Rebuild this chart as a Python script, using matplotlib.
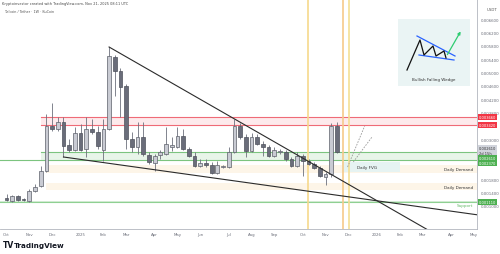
import matplotlib
matplotlib.use("Agg")
import matplotlib.pyplot as plt
import matplotlib.dates as mdates
from matplotlib.transforms import blended_transform_factory
import numpy as np

# Telcoin / Tether weekly candles, first candle = week of 2024-10-07
first_week = np.datetime64("2024-10-07")
opens = [0.00123, 0.00114, 0.00129, 0.00120, 0.00114, 0.00144, 0.00159, 0.00204, 0.00339, 0.00330,
         0.00351, 0.00282, 0.00267, 0.00318, 0.00270, 0.00330, 0.00321, 0.00267, 0.00330, 0.00546,
         0.00504, 0.00459, 0.00300, 0.00276, 0.00306, 0.00252, 0.00228, 0.00252, 0.00255, 0.00276,
         0.00276, 0.00309, 0.00270, 0.00249, 0.00219, 0.00228, 0.00222, 0.00198, 0.00216, 0.00216,
         0.00261, 0.00339, 0.00306, 0.00264, 0.00306, 0.00285, 0.00276, 0.00249, 0.00261, 0.00261,
         0.00240, 0.00219, 0.00249, 0.00234, 0.00225, 0.00213, 0.00186, 0.00195, 0.00339]
highs = [0.00135, 0.00132, 0.00132, 0.00123, 0.00150, 0.00165, 0.00219, 0.00375, 0.00408, 0.00366,
         0.00366, 0.00300, 0.00336, 0.00345, 0.00366, 0.00360, 0.00339, 0.00360, 0.00576, 0.00552,
         0.00513, 0.00465, 0.00321, 0.00351, 0.00351, 0.00261, 0.00255, 0.00267, 0.00336, 0.00306,
         0.00336, 0.00330, 0.00276, 0.00261, 0.00240, 0.00240, 0.00231, 0.00234, 0.00222, 0.00276,
         0.00360, 0.00348, 0.00315, 0.00318, 0.00315, 0.00294, 0.00282, 0.00276, 0.00270, 0.00267,
         0.00246, 0.00261, 0.00255, 0.00240, 0.00231, 0.00219, 0.00201, 0.00348, 0.00351]
lows = [0.00114, 0.00111, 0.00114, 0.00114, 0.00111, 0.00141, 0.00156, 0.00201, 0.00324, 0.00324,
        0.00246, 0.00261, 0.00264, 0.00264, 0.00246, 0.00315, 0.00270, 0.00234, 0.00327, 0.00429,
        0.00366, 0.00270, 0.00261, 0.00255, 0.00249, 0.00225, 0.00204, 0.00240, 0.00252, 0.00264,
        0.00273, 0.00267, 0.00246, 0.00216, 0.00216, 0.00216, 0.00195, 0.00195, 0.00213, 0.00213,
        0.00258, 0.00300, 0.00246, 0.00261, 0.00282, 0.00249, 0.00246, 0.00246, 0.00255, 0.00234,
        0.00216, 0.00216, 0.00189, 0.00222, 0.00210, 0.00186, 0.00162, 0.00186, 0.00258]
closes = [0.00117, 0.00129, 0.00117, 0.00117, 0.00144, 0.00156, 0.00204, 0.00339, 0.00330, 0.00351,
          0.00279, 0.00267, 0.00318, 0.00267, 0.00330, 0.00321, 0.00279, 0.00330, 0.00549, 0.00504,
          0.00456, 0.00300, 0.00276, 0.00306, 0.00255, 0.00231, 0.00249, 0.00261, 0.00285, 0.00282,
          0.00309, 0.00270, 0.00249, 0.00219, 0.00228, 0.00222, 0.00198, 0.00222, 0.00219, 0.00261,
          0.00339, 0.00306, 0.00264, 0.00306, 0.00285, 0.00276, 0.00249, 0.00267, 0.00264, 0.00240,
          0.00219, 0.00249, 0.00234, 0.00225, 0.00213, 0.00189, 0.00195, 0.00339, 0.00261]

# drawings
upper_line_dates = ["2025-02-10", "2026-03-11"]
upper_line_prices = [0.00576, 0.00024]
lower_line_dates = ["2024-12-16", "2026-05-10"]
lower_line_prices = [0.00246, 0.00072]
proj_a_dates = ["2025-11-30", "2025-12-21"]
proj_a_prices = [0.00216, 0.00339]
proj_b_dates = ["2025-12-07", "2025-12-30"]
proj_b_prices = [0.00231, 0.00306]
red_zone = [0.00342, 0.00366]
green_zone = [0.00237, 0.00261]
zones_start = "2024-11-18"
demand_zones = [[0.00198, 0.00222], [0.00147, 0.00168]]
demand_start = "2024-11-25"
support_level = 0.00111
fvg_dates = ["2025-11-23", "2026-02-02"]
fvg_prices = [0.00201, 0.00231]
vline_dates = ["2025-10-12", "2025-11-24", "2025-12-02"]
vline_colors = ["#f6d98c", "#f6c98a", "#f4df93"]
price_ticks = [0.0010, 0.0014, 0.0018, 0.0030, 0.0038, 0.0042, 0.0046,
               0.0050, 0.0054, 0.0058, 0.0062, 0.0066]
month_names = ["Jan", "Feb", "Mar", "Apr", "May", "Jun", "Jul", "Aug", "Sep", "Oct", "Nov", "Dec"]

# inset sketch (pixel units inside the box, y downwards)
wedge_zigzag_x = [9, 22, 26, 35, 38, 46, 48]
wedge_zigzag_y = [51, 21, 36, 27, 37, 32, 39]
wedge_top_x, wedge_top_y = [19, 57], [17, 37]
wedge_bot_x, wedge_bot_y = [21, 56], [36, 41]
arrow_x, arrow_y = [48, 64], [38, 10]

d = lambda s: mdates.date2num(np.datetime64(s))

fig = plt.figure(figsize=(5.0, 2.55), dpi=100)
fig.patch.set_facecolor("white")
ax = fig.add_axes([0.0, 25 / 255, 477 / 500, 230 / 255])

weeks = first_week + np.arange(len(opens)) * np.timedelta64(7, "D")
x = mdates.date2num(weeks)
o, h, l, c = map(np.array, (opens, highs, lows, closes))
left, right = d("2024-09-29"), d("2026-05-08")

# zones
ax.fill_between([d(zones_start), right], red_zone[0], red_zone[1], color="#fdeaec", lw=0, zorder=0)
for p in red_zone:
    ax.plot([d(zones_start), right], [p, p], color="#ef6b77", lw=0.8, zorder=1)
ax.fill_between([d(zones_start), right], green_zone[0], green_zone[1], color="#e8f5e9", lw=0, zorder=0)
ax.plot([d(zones_start), right], [green_zone[1]] * 2, color="#7cc47f", lw=0.8, zorder=1)
ax.plot([left, right], [green_zone[0]] * 2, color="#7cc47f", lw=0.8, zorder=1)
for z in demand_zones:
    ax.fill_between([d(demand_start), right], z[0], z[1], color="#fdf5e8", lw=0, zorder=0)
ax.fill_between([left, right], support_level - 0.00003, support_level + 0.00003, color="#d5ecd6", lw=0, zorder=0)
ax.plot([left, right], [support_level] * 2, color="#8fd092", lw=0.8, zorder=1)
ax.fill_between([d(fvg_dates[0]), d(fvg_dates[1])], fvg_prices[0], fvg_prices[1], color="#e6f3f2", lw=0, zorder=0)

for vd, vc in zip(vline_dates, vline_colors):
    ax.axvline(d(vd), color=vc, lw=1.2, zorder=1)

# candles
up = c >= o
ax.vlines(x, l, h, color="#6d707c", lw=0.6, zorder=2)
ax.bar(x[up], (c - o)[up], bottom=o[up], width=4.6, color="#c9cbd3", edgecolor="#5d606b", lw=0.5, zorder=3)
ax.bar(x[~up], (c - o)[~up], bottom=o[~up], width=4.6, color="#6a6d7a", edgecolor="#4f525c", lw=0.5, zorder=3)

# trend lines
ax.plot([d(s) for s in upper_line_dates], upper_line_prices, color="#2b2b2b", lw=0.8, zorder=4)
ax.plot([d(s) for s in lower_line_dates], lower_line_prices, color="#2b2b2b", lw=0.8, zorder=4)
ax.plot([d(s) for s in proj_a_dates], proj_a_prices, color="#9a9a9a", lw=0.6, ls=(0, (2, 1.5)), zorder=4)
ax.plot([d(s) for s in proj_b_dates], proj_b_prices, color="#9a9a9a", lw=0.6, ls=(0, (2, 1.5)), zorder=4)

# texts on chart
bt = blended_transform_factory(ax.transAxes, ax.transData)
ax.text(d("2025-12-11"), sum(fvg_prices) / 2, "Daily FVG", fontsize=3.0, color="#333333", va="center")
for z in demand_zones:
    ax.text(0.992, sum(z) / 2, "Daily Demand", transform=bt, fontsize=3.0, color="#333333", ha="right", va="center")
ax.text(0.992, support_level - 0.00009, "Support", transform=bt, fontsize=3.0, color="#66bb6a", ha="right", va="center")

# axes styling
for side in ("top", "left"):
    ax.spines[side].set_visible(False)
ax.spines["right"].set_color("#b2b5be")
ax.spines["bottom"].set_color("#b2b5be")
ax.spines["right"].set_linewidth(0.6)
ax.spines["bottom"].set_linewidth(0.6)
ax.yaxis.tick_right()
ax.set_yticks(price_ticks)
ax.set_yticklabels(["%.6f" % p for p in price_ticks])
ax.tick_params(axis="y", length=0, labelsize=2.8, labelcolor="#6a6d78", pad=2.5)

# month labels sit on the first weekly bar of each month
axis_weeks = first_week + np.arange(84) * np.timedelta64(7, "D")
months = axis_weeks.astype("datetime64[M]")
firsts = axis_weeks[np.r_[True, months[1:] != months[:-1]]]
labels = []
for w in firsts:
    mi = int(str(w)[5:7])
    labels.append(str(w)[:4] if mi == 1 else month_names[mi - 1])
ax.set_xticks(mdates.date2num(firsts))
ax.set_xticklabels(labels)
ax.tick_params(axis="x", length=0, labelsize=2.8, labelcolor="#6a6d78", pad=2)

ax.set_xlim(left, right)
ax.set_ylim(0.0003, 0.0072)

# price scale labels
def tag(price, text, fc, tc="white"):
    ax.text(1.004, price, text, transform=bt, fontsize=2.6, color=tc, va="center", ha="left",
            bbox=dict(boxstyle="square,pad=0.3", fc=fc, ec="none"), clip_on=False, zorder=6)

tag(red_zone[1], "%.6f" % red_zone[1], "#f23645")
tag(red_zone[0] + 0.00001, "%.6f" % red_zone[0], "#f23645")
tag(closes[-1] + 0.00004, "%.6f\n2d 15h" % closes[-1], "#d1d4dc", "#333333")
tag(green_zone[1] - 0.00017, "%.6f" % green_zone[1], "#4caf50")
tag(green_zone[0] - 0.00010, "%.6f" % green_zone[0], "#4caf50")
tag(support_level, "%.6f" % support_level, "#4caf50")
ax.text(1.02, 0.0069, "USDT", transform=bt, fontsize=2.8, color="#555555", va="center", clip_on=False)

# inset sketch
ins = fig.add_axes([398 / 500, 1 - 87 / 255, 72 / 500, 67 / 255])
ins.set_facecolor("#eaf4f4")
ins.set_xlim(0, 72)
ins.set_ylim(67, 0)
ins.set_xticks([])
ins.set_yticks([])
for s in ins.spines.values():
    s.set_visible(False)
ins.plot(wedge_top_x, wedge_top_y, color="#2962ff", lw=0.9)
ins.plot(wedge_bot_x, wedge_bot_y, color="#2962ff", lw=0.9)
ins.plot(wedge_zigzag_x, wedge_zigzag_y, color="#111111", lw=0.9)
ins.annotate("", xy=(arrow_x[1], arrow_y[1]), xytext=(arrow_x[0], arrow_y[0]),
             arrowprops=dict(arrowstyle="-|>", color="#2ecc71", lw=0.9, mutation_scale=4))
ins.text(36, 60, "Bullish Falling Wedge", fontsize=3.0, color="#333333", ha="center", va="center")

# header and logo
fig.text(0.004, 1 - 4 / 255, "Kryptoinvestor created with TradingView.com, Nov 21, 2025 08:11 UTC",
         fontsize=2.5, color="#444444", va="center")
fig.text(0.01, 1 - 12 / 255, "Telcoin / Tether · 1W · KuCoin", fontsize=2.4, color="#555555", va="center")
fig.text(0.006, 1 - 246 / 255, "TV", fontsize=5.5, fontweight="heavy", color="#131722", va="center")
fig.text(0.028, 1 - 246 / 255, "TradingView", fontsize=5.2, fontweight="bold", color="#131722", va="center")

fig.savefig("out.png", dpi=100, facecolor="white")
